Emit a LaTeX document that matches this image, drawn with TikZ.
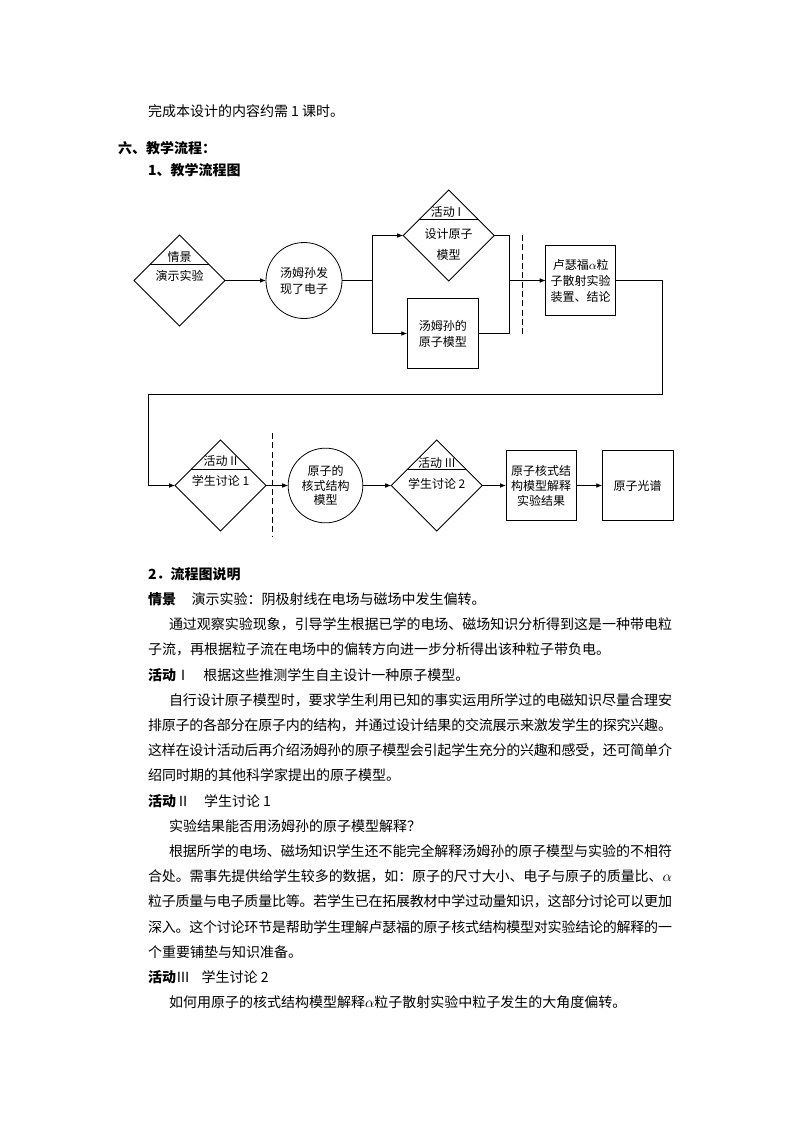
\documentclass[tikz,border=0pt]{standalone}
\usepackage{fontspec}
\setmainfont{Noto Sans CJK SC}
\usetikzlibrary{shapes.geometric,arrows.meta,calc}
\makeatletter
\count@="4E00
\loop\ifnum\count@<"A000 \XeTeXcharclass\count@=1 \advance\count@ by 1 \repeat
\makeatother
\XeTeXcharclass"3001=3
\XeTeXcharclass"3002=3
\XeTeXcharclass"FF0C=3
\XeTeXcharclass"FF1A=3
\XeTeXcharclass"FF1F=3
\XeTeXcharclass"FF0E=3
\newcommand\myjglue{\hskip 0pt plus 3pt minus 1.5pt}
\def\mysetict#1#2{\XeTeXinterchartoks #1 #2 = {}}
\mysetict{0}{0}\mysetict{0}{1}\mysetict{0}{2}\mysetict{0}{3}\mysetict{0}{4095}
\mysetict{1}{0}\mysetict{1}{2}\mysetict{1}{4095}
\mysetict{2}{0}\mysetict{2}{2}\mysetict{2}{3}\mysetict{2}{4095}
\mysetict{3}{0}\mysetict{3}{2}\mysetict{3}{3}\mysetict{3}{4095}
\mysetict{4095}{0}\mysetict{4095}{1}\mysetict{4095}{2}\mysetict{4095}{3}
\XeTeXinterchartoks 1 1 = {\myjglue}
\XeTeXinterchartoks 1 3 = {\myjglue}
\XeTeXinterchartoks 3 1 = {\myjglue}
\XeTeXinterchartoks 2 1 = {\myjglue}
\XeTeXinterchartokenstate=1
\newcommand\myjust[2]{\hbox to #1{#2}}
\begin{document}
\begin{tikzpicture}[x=0.75pt,y=-0.75pt,
  every node/.style={inner sep=0pt, outer sep=0pt},
  box/.style={draw, line width=0.6pt, inner sep=0pt, align=center, font=\fontsize{9}{12}\selectfont},
  dia/.style={draw, diamond, line width=0.6pt, minimum width=68.25pt, minimum height=68.25pt, inner sep=0pt},
  circ/.style={draw, circle, line width=0.6pt, align=center, font=\fontsize{9}{12}\selectfont},
  lbl/.style={font=\fontsize{9}{12}\selectfont, align=center},
  arr/.style={-{Latex[length=4.5pt,width=3.5pt]}, line width=0.6pt},
  ln/.style={line width=0.6pt},
  dsh/.style={line width=0.6pt, dash pattern=on 4.5pt off 2.5pt},
  body/.style={anchor=base west, font=\fontsize{10.5}{12}\selectfont},
  bbody/.style={anchor=base west, font=\fontsize{10.5}{12}\selectfont\bfseries},
]
\fill[white] (0,0) rectangle (794,1123);
\useasboundingbox (0,0) rectangle (794,1123);

% header texts
\node[body] (t0) at (148,116.3) {完成本设计的内容约需 1 课时。};
\node[bbody] (h1) at (118,153.3) {六、教学流程：};
\node[bbody] (h2) at (148,175.5) {1、教学流程图};

% top row
\node[dia] (d1) at (179.5,280.5) {};
\node[lbl] (d1h) at (179.5,257) {情景};
\node[lbl] (d1b) at (179.5,276) {演示实验};
\draw[ln] ($(d1.north)!0.644!(d1.west)$) -- ($(d1.north)!0.644!(d1.east)$);

\node[circ, minimum size=57pt] (c1) at (304,280.5) {汤姆孙发\\现了电子};

\node[dia] (d2) at (448.7,235.5) {};
\node[lbl] (d2h) at (446,212) {活动 I};
\node[lbl, font=\fontsize{9}{15.75}\selectfont] (d2b) at (448.7,244.5) {设计原子\\模型};
\draw[ln] ($(d2.north)!0.644!(d2.west)$) -- ($(d2.north)!0.644!(d2.east)$);

\node[box, minimum width=53.25pt, minimum height=52.5pt] (r2) at (442.8,333.5) {汤姆孙的\\原子模型};
\node[box, minimum width=52.5pt, minimum height=52.5pt] (r3) at (580.7,280.5) {卢瑟福$\alpha$粒\\子散射实验\\装置、结论};

\coordinate (j1) at (372,280.5);
\coordinate (j2) at (509.3,280.5);
\coordinate (t1) at (662.7,394.3);
\coordinate (t2) at (148.3,394.3);

\draw[dsh] (522.7,235) -- (522.7,335);

% bottom row
\node[dia] (d3) at (220.5,485.5) {};
\node[lbl] (d3h) at (220.5,461) {活动 II};
\node[lbl] (d3b) at (220.5,480.5) {学生讨论 1};
\draw[ln] ($(d3.north)!0.644!(d3.west)$) -- ($(d3.north)!0.644!(d3.east)$);

\draw[dsh] (272.7,433) -- (272.7,537);

\node[circ, minimum size=56pt, font=\fontsize{9}{11}\selectfont] (c2) at (325.5,485.5) {原子的\\核式结构\\模型};

\node[dia] (d4) at (436.7,485.5) {};
\node[lbl] (d4h) at (436.7,462.5) {活动 III};
\node[lbl] (d4b) at (436.7,483.5) {学生讨论 2};
\draw[ln] ($(d4.north)!0.644!(d4.west)$) -- ($(d4.north)!0.644!(d4.east)$);

\node[box, minimum width=52.5pt, minimum height=52pt, font=\fontsize{9}{11.25}\selectfont] (r4) at (541,485.5) {原子核式结\\构模型解释\\实验结果};
\node[box, minimum width=53pt, minimum height=52pt] (r5) at (637.6,485.5) {原子光谱};

% connectors
\draw[arr] (d1.east) -- (c1.west);
\draw[ln] (c1.east) -- (j1);
\draw[arr] (j1) |- (d2.west);
\draw[arr] (j1) |- (r2.west);
\draw[ln] (d2.east) -| (j2);
\draw[ln] (r2.east) -| (j2);
\draw[arr] (j2) -- (r3.west);
\draw[arr] (r3.east) -| (t1) -- (t2) |- (d3.west);
\draw[arr] (d3.east) -- (c2.west);
\draw[arr] (c2.east) -- (d4.west);
\draw[arr] (d4.east) -- (r4.west);
\draw[arr] (r4.east) -- (r5.west);

% body text
\node[bbody] (l0) at (148,579.3) {2．流程图说明};
\node[bbody] (l1a) at (148,604.5) {情景};
\node[body] (l1b) at (191.7,604.5) {演示实验：阴极射线在电场与磁场中发生偏转。};
\node[body] (l2) at (169,629.7) {\myjust{377.25pt}{通过观察实验现象，引导学生根据已学的电场、磁场知识分析得到这是一种带电粒}};
\node[body] (l3) at (148,654.9) {子流，再根据粒子流在电场中的偏转方向进一步分析得出该种粒子带负电。};
\node[body] (l4a) at (148,680.1) {\textbf{活动}Ⅰ};
\node[body] (l4b) at (203.3,680.1) {根据这些推测学生自主设计一种原子模型。};
\node[body] (l5) at (169,705.3) {\myjust{377.25pt}{自行设计原子模型时，要求学生利用已知的事实运用所学过的电磁知识尽量合理安}};
\node[body] (l6) at (148,730.5) {\myjust{393pt}{排原子的各部分在原子内的结构，并通过设计结果的交流展示来激发学生的探究兴趣。}};
\node[body] (l7) at (148,755.7) {\myjust{393pt}{这样在设计活动后再介绍汤姆孙的原子模型会引起学生充分的兴趣和感受，还可简单介}};
\node[body] (l8) at (148,780.9) {绍同时期的其他科学家提出的原子模型。};
\node[body] (l9a) at (148,806.1) {\textbf{活动}Ⅱ};
\node[body] (l9b) at (204,806.1) {学生讨论 1};
\node[body] (l10) at (169,831.3) {实验结果能否用汤姆孙的原子模型解释？};
\node[body] (l11) at (169,856.5) {\myjust{377.25pt}{根据所学的电场、磁场知识学生还不能完全解释汤姆孙的原子模型与实验的不相符}};
\node[body] (l12) at (148,881.7) {\myjust{393pt}{合处。需事先提供给学生较多的数据，如：原子的尺寸大小、电子与原子的质量比、\hfil$\alpha$}};
\node[body] (l13) at (148,906.9) {\myjust{393pt}{粒子质量与电子质量比等。若学生已在拓展教材中学过动量知识，这部分讨论可以更加}};
\node[body] (l14) at (148,932.1) {\myjust{393pt}{深入。这个讨论环节是帮助学生理解卢瑟福的原子核式结构模型对实验结论的解释的一}};
\node[body] (l15) at (148,957.3) {个重要铺垫与知识准备。};
\node[bbody] (l16a) at (148,982.5) {活动\mdseries Ⅲ};
\node[body] (l16b) at (201.7,982.5) {学生讨论 2};
\node[body] (l17) at (169,1007.7) {如何用原子的核式结构模型解释$\alpha$粒子散射实验中粒子发生的大角度偏转。};
\end{tikzpicture}
\end{document}
